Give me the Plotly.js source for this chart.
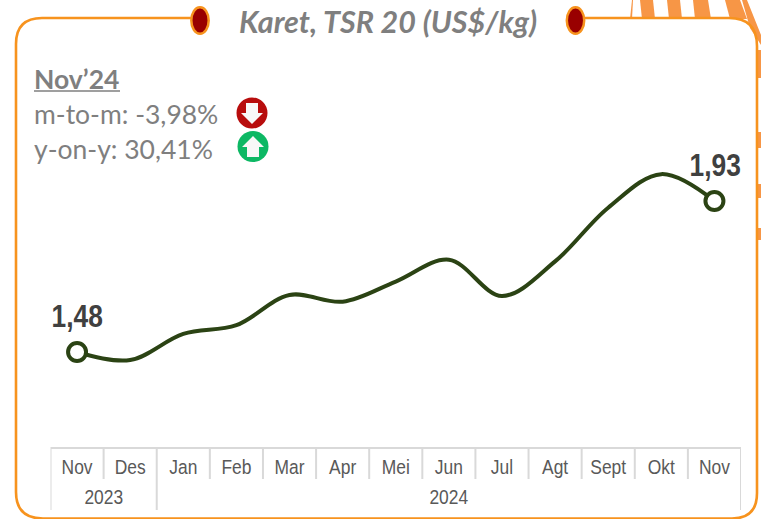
<!DOCTYPE html>
<html><head><meta charset="utf-8">
<script src="https://cdn.plot.ly/plotly-3.0.1.min.js"></script>
<style>html,body{margin:0;padding:0;background:#fff;overflow:hidden}#c{width:761px;height:519px}</style>
</head><body><div id="c"></div>
<script>
const yearLabels = ['2023','2024'];
const yearPositions = [0.5,7];
const months = ['Nov','Des','Jan','Feb','Mar','Apr','Mei','Jun','Jul','Agt','Sept','Okt','Nov'];
const monthIndex = [0,1,2,3,4,5,6,7,8,9,10,11,12];
const values = [1.48,1.456,1.534,1.56,1.65,1.63,1.69,1.755,1.647,1.75,1.91,2.01,1.93];
const endLabels = ['1,48','1,93'];
const W=761,H=519;
const px=x=>x/W, py=y=>1-y/H;
const P=(x,y)=>px(x)+','+py(y);
const orange='#F7931E', stripe='#F79646', grey='#7F7F7F', line='#2B4314', axisGrey='#D9D9D9';
const shapes=[];
function sh(path,fill,col,w,layer){shapes.push({type:'path',xref:'paper',yref:'paper',path,fillcolor:fill,line:{color:col,width:w},layer:layer||'below'});}
// stripes at top right
[[632,633,630,632],[640,653,642,655],[667,680,669,682],[693,708,695,711],[725,740,730,747]].forEach(s=>{
  sh('M'+P(s[0],0)+' L'+P(s[1],0)+' L'+P(s[3],19)+' L'+P(s[2],19)+' Z',stripe,stripe,0);
});
sh('M'+P(742,0)+' L'+P(747,0)+' L'+P(761,35)+' L'+P(761,45)+' L'+P(750,28)+' Z',stripe,stripe,0);
[[50,78],[132,148],[184,198],[228,240]].forEach(s=>{
  sh('M'+P(757,s[0])+' L'+P(761,s[0])+' L'+P(761,s[1])+' L'+P(757,s[1])+' Z',stripe,stripe,0);
});
// rounded frame
sh('M'+P(200,18)+' L'+P(42,18)+' Q'+P(16,18)+' '+P(16,44)+' L'+P(16,492)+' Q'+P(16,518.5)+' '+P(43,518.5)+' L'+P(732,518.5)+' Q'+P(757,518.5)+' '+P(757,493)+' L'+P(757,46)+' Q'+P(757,18)+' '+P(729,18)+' L'+P(576,18),'rgba(0,0,0,0)',orange,2.6);
function ell(cx,cy,rx,ry,fill,col,w){shapes.push({type:'circle',xref:'paper',yref:'paper',x0:px(cx-rx),x1:px(cx+rx),y0:py(cy+ry),y1:py(cy-ry),fillcolor:fill,line:{color:col,width:w},layer:'above'});}
ell(200,20.5,8.7,13.3,'#990000',orange,2.5);
ell(575.5,20.5,8.7,13.3,'#990000',orange,2.5);
ell(252,113,15.5,15.5,'#B80D0D','#B80D0D',0);
ell(253,146.5,15.5,15.5,'#0DB864','#0DB864',0);
sh('M'+P(246,103)+' L'+P(258,103)+' L'+P(258,113)+' L'+P(263,113)+' L'+P(252,124)+' L'+P(241,113)+' L'+P(246,113)+' Z','#F8F8F8','#F8F8F8',0,'above');
sh('M'+P(247,157)+' L'+P(259,157)+' L'+P(259,147)+' L'+P(264,147)+' L'+P(253,136)+' L'+P(242,147)+' L'+P(247,147)+' Z','#F8F8F8','#F8F8F8',0,'above');
// underline
shapes.push({type:'line',xref:'paper',yref:'paper',x0:px(34),x1:px(120),y0:py(91),y1:py(91),line:{color:grey,width:1.5}});
// axis frame: month dividers and year dividers
monthIndex.concat([13]).forEach(i=>{
  const v=i-0.5, outer=(i===0||i===2||i===13);
  shapes.push({type:'line',xref:'x',yref:'paper',x0:v,x1:v,y0:py(447),y1:py(outer?510:479),line:{color:axisGrey,width:2},layer:'below'});
});
const T=(x,y,text,size,col,extra)=>Object.assign({xref:'paper',yref:'paper',x:px(x),y:py(y),text,showarrow:false,xanchor:'left',yanchor:'middle',font:{family:'Lato, sans-serif',size,color:col}},extra||{});
const sans='"Liberation Sans", Arial, sans-serif';
const N=(x,y,text,size,col,weight,xref)=>({xref:xref||'paper',yref:'paper',x,y:py(y),text,showarrow:false,xanchor:'center',yanchor:'middle',font:{family:sans,size,color:col,weight}});
const annotations=[
 T(387.5,21,'<b><i>Karet, TSR 20 (US$/kg)</i></b>',30.5,grey,{xanchor:'center'}),
 T(32,79,'<b>Nov’24</b>',26.5,grey),
 T(32,114,'m-to-m: -3,98%',26.5,grey),
 T(32,149,'y-on-y: 30,41%',26.5,grey),
 N(px(77),316,endLabels[0],31,'#404040',700),
 N(px(714.5),165,endLabels[1],31,'#404040',700)
];
yearLabels.forEach((t,i)=>annotations.push(N(yearPositions[i],496,t,20.5,'#595959',400,'x')));
const trace={type:'scatter',mode:'lines',x:monthIndex,y:values,line:{color:line,width:4,shape:'spline',smoothing:1},hoverinfo:'none'};
const endpoints={type:'scatter',mode:'markers',x:[monthIndex[0],monthIndex[12]],y:[values[0],values[12]],marker:{size:18,color:'#fff',line:{color:line,width:4}},hoverinfo:'none'};
const layout={width:W,height:H,margin:{l:0,r:0,t:0,b:0},paper_bgcolor:'#fff',plot_bgcolor:'rgba(0,0,0,0)',showlegend:false,
 xaxis:{type:'linear',domain:[px(50.5),px(741)],range:[-0.5,12.5],tickmode:'array',tickvals:monthIndex,ticktext:months,showline:true,linecolor:axisGrey,linewidth:2,ticks:'',showgrid:false,zeroline:false,tickfont:{family:sans,size:20.5,color:'#595959'},automargin:false},
 yaxis:{domain:[py(447),py(40)],range:[1.197,1.48+(352-40)/335.6],visible:false},
 shapes,annotations};
Plotly.newPlot('c',[trace,endpoints],layout,{displayModeBar:false,staticPlot:true}).then(gd=>{
  // the reference's Arial labels are horizontally condensed
  gd.querySelectorAll('.xtick text, .annotation-text').forEach(el=>{
    if(!/Liberation/.test(el.style.fontFamily)) return;
    el.setAttribute('textLength',el.getComputedTextLength()*0.85);
    el.setAttribute('lengthAdjust','spacingAndGlyphs');
  });
});
</script></body></html>
